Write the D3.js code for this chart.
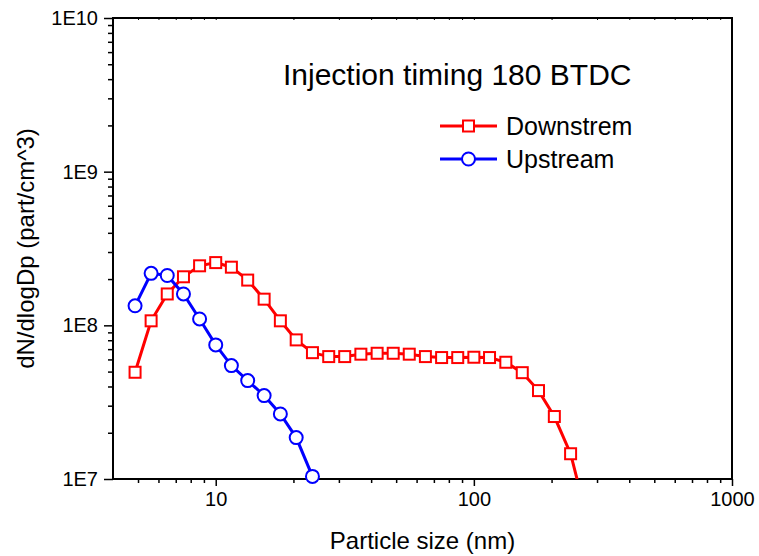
<!DOCTYPE html>
<meta charset="utf-8" />
<script src="https://d3js.org/d3.v7.min.js"></script>
<style>
  body { margin: 0; background: #fff; }
  svg text { font-family: "Liberation Sans", Arial, sans-serif; fill: #000; }
</style>
<body>
<div id="my_dataviz"></div>
<script>
  // particle size channels (nm)
  const sizes = [4.87, 5.62, 6.49, 7.50, 8.66, 10.0, 11.5, 13.3, 15.4, 17.8, 20.5, 23.7, 27.4, 31.6,
    36.5, 42.2, 48.7, 56.2, 64.9, 75.0, 86.6, 100, 115, 133, 154, 178, 205, 237, 274];
  const downstream = [4.95e7, 1.07e8, 1.60e8, 2.07e8, 2.44e8, 2.56e8, 2.39e8, 1.97e8, 1.48e8, 1.07e8,
    8.04e7, 6.64e7, 6.26e7, 6.26e7, 6.49e7, 6.58e7, 6.58e7, 6.49e7, 6.26e7, 6.17e7, 6.17e7, 6.2e7,
    6.17e7, 5.75e7, 4.92e7, 3.76e7, 2.55e7, 1.46e7, 5.6e6];
  const upstream = [1.34e8, 2.18e8, 2.11e8, 1.60e8, 1.10e8, 7.46e7, 5.47e7, 4.37e7, 3.49e7, 2.65e7,
    1.86e7, 1.04e7];
  const xMajor = [10, 100, 1000];
  const xLabels = ["10", "100", "1000"];
  const yMajor = [1e7, 1e8, 1e9, 1e10];
  const yLabels = ["1E7", "1E8", "1E9", "1E10"];
  const seriesNames = ["Downstrem", "Upstream"];

  const W = 759, H = 556;
  const m = { left: 113, right: 732, top: 18, bottom: 479 };

  const svg = d3.select("#my_dataviz").append("svg")
    .attr("width", W).attr("height", H);

  const x = d3.scaleLog().domain([4, 1000]).range([m.left, m.right]);
  const y = d3.scaleLog().domain([1e7, 1e10]).range([m.bottom, m.top]);

  // minor ticks
  const xMinor = [];
  [1, 10, 100].forEach(function (p) {
    for (let k = 2; k <= 9; k++) if (k * p >= 5) xMinor.push(k * p);
  });
  const yMinor = [];
  [1e7, 1e8, 1e9].forEach(function (p) {
    for (let k = 2; k <= 9; k++) yMinor.push(k * p);
  });

  // bottom axis
  svg.append("g").attr("transform", "translate(0," + m.bottom + ")")
    .call(d3.axisBottom(x).tickValues(xMinor).tickSize(4).tickFormat(""))
    .call(g => g.select(".domain").remove())
    .selectAll("line").attr("stroke-width", 1.5);
  const xa = svg.append("g").attr("transform", "translate(0," + m.bottom + ")")
    .call(d3.axisBottom(x).tickValues(xMajor).tickSize(7).tickPadding(6)
      .tickFormat((d, i) => xLabels[i]));
  xa.select(".domain").remove();
  xa.selectAll("line").attr("stroke-width", 1.5);
  xa.selectAll("text").style("font-size", "20px");

  // top axis, tiny inner ticks
  svg.append("g").attr("transform", "translate(0," + m.top + ")")
    .call(d3.axisBottom(x).tickValues(xMinor.concat(xMajor)).tickSize(2).tickFormat(""))
    .call(g => g.select(".domain").remove())
    .selectAll("line").attr("stroke-width", 1);

  // left axis
  svg.append("g").attr("transform", "translate(" + m.left + ",0)")
    .call(d3.axisLeft(y).tickValues(yMinor).tickSize(5).tickFormat(""))
    .call(g => g.select(".domain").remove())
    .selectAll("line").attr("stroke-width", 1.5);
  const ya = svg.append("g").attr("transform", "translate(" + m.left + ",0)")
    .call(d3.axisLeft(y).tickValues(yMajor).tickSize(9).tickPadding(6)
      .tickFormat((d, i) => yLabels[i]));
  ya.select(".domain").remove();
  ya.selectAll("line").attr("stroke-width", 1.5);
  ya.selectAll("text").style("font-size", "20px");

  // frame
  svg.append("rect")
    .attr("x", m.left).attr("y", m.top)
    .attr("width", m.right - m.left).attr("height", m.bottom - m.top)
    .attr("fill", "none").attr("stroke", "#000").attr("stroke-width", 2);

  // clip
  svg.append("clipPath").attr("id", "clip").append("rect")
    .attr("x", m.left).attr("y", m.top).attr("width", m.right - m.left).attr("height", m.bottom - m.top);

  const line = d3.line().x(d => x(d[0])).y(d => y(d[1]));
  const downData = sizes.map((s, i) => [s, downstream[i]]);
  const upData = upstream.map((v, i) => [sizes[i], v]);
  const inside = d => d[1] >= 1e7 && d[1] <= 1e10;

  const plot = svg.append("g").attr("clip-path", "url(#clip)");

  // downstream (red squares)
  plot.append("path").datum(downData)
    .attr("d", line).attr("fill", "none").attr("stroke", "#ff0000").attr("stroke-width", 3);
  plot.selectAll(".sq").data(downData.filter(inside)).enter().append("rect")
    .attr("x", d => x(d[0]) - 5.5).attr("y", d => y(d[1]) - 5.5)
    .attr("width", 11).attr("height", 11)
    .attr("fill", "#fff").attr("stroke", "#ff0000").attr("stroke-width", 2);

  // upstream (blue circles)
  plot.append("path").datum(upData)
    .attr("d", line).attr("fill", "none").attr("stroke", "#0000ff").attr("stroke-width", 3);
  svg.selectAll(".ci").data(upData.filter(inside)).enter().append("circle")
    .attr("cx", d => x(d[0])).attr("cy", d => y(d[1])).attr("r", 6.5)
    .attr("fill", "#fff").attr("stroke", "#0000ff").attr("stroke-width", 2);

  // title
  svg.append("text").attr("x", 283).attr("y", 85)
    .style("font-size", "30px").text("Injection timing 180 BTDC");

  // legend
  const legY = [126, 159];
  const colors = ["#ff0000", "#0000ff"];
  seriesNames.forEach(function (name, i) {
    svg.append("line").attr("x1", 440).attr("x2", 497).attr("y1", legY[i]).attr("y2", legY[i])
      .attr("stroke", colors[i]).attr("stroke-width", 3);
    if (i === 0) {
      svg.append("rect").attr("x", 463).attr("y", legY[i] - 5.5).attr("width", 11).attr("height", 11)
        .attr("fill", "#fff").attr("stroke", colors[i]).attr("stroke-width", 2);
    } else {
      svg.append("circle").attr("cx", 468.5).attr("cy", legY[i]).attr("r", 6.5)
        .attr("fill", "#fff").attr("stroke", colors[i]).attr("stroke-width", 2);
    }
    svg.append("text").attr("x", 506).attr("y", legY[i] + 9)
      .style("font-size", "25px").text(name);
  });

  // axis titles
  svg.append("text").attr("x", (m.left + m.right) / 2).attr("y", 549)
    .attr("text-anchor", "middle").style("font-size", "24px").text("Particle size (nm)");
  svg.append("text")
    .attr("transform", "translate(34," + (m.top + m.bottom) / 2 + ")rotate(-90)")
    .attr("text-anchor", "middle").style("font-size", "24px").text("dN/dlogDp (part/cm^3)");
</script>
</body>
